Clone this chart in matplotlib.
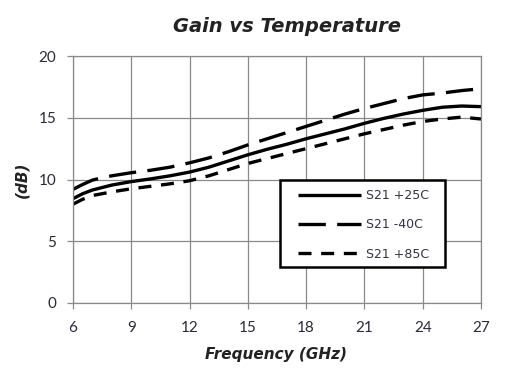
import matplotlib
matplotlib.use("Agg")
import matplotlib.pyplot as plt
from matplotlib.patches import Rectangle

freq = [6, 6.5, 7, 7.5, 8, 9, 10, 11, 12, 13, 14, 15, 16, 17, 18, 19, 20, 21, 22, 23, 24, 25, 26, 27]
s21_25 = [8.45, 8.85, 9.15, 9.35, 9.55, 9.83, 10.05, 10.3, 10.6, 11.0, 11.5, 12.0, 12.45, 12.85,
          13.3, 13.7, 14.1, 14.55, 14.95, 15.3, 15.6, 15.85, 15.95, 15.9]
s21_m40 = [9.2, 9.6, 9.95, 10.15, 10.3, 10.55, 10.75, 11.0, 11.35, 11.75, 12.25, 12.8, 13.3, 13.8,
           14.3, 14.8, 15.3, 15.75, 16.15, 16.55, 16.85, 17.0, 17.2, 17.35]
s21_85 = [8.0, 8.4, 8.7, 8.85, 9.0, 9.25, 9.45, 9.65, 9.9, 10.3, 10.8, 11.3, 11.7, 12.1,
          12.5, 12.9, 13.3, 13.7, 14.05, 14.4, 14.7, 14.9, 15.05, 14.9]

xticks = [6, 9, 12, 15, 18, 21, 24, 27]
yticks = [0, 5, 10, 15, 20]
labels = ["S21 +25C", "S21 -40C", "S21 +85C"]

plt.rcParams['font.family'] = ['Lato', 'DejaVu Sans']

fig = plt.figure(figsize=(5.2, 3.86), dpi=100)
ax = fig.add_axes([73/520, 1-303/386, (481-73)/520, (303-56)/386])

lw = 2.4
ax.plot(freq, s21_25, color='black', lw=lw, solid_capstyle='butt',
        solid_joinstyle='round', label=labels[0])
ax.plot(freq, s21_m40, color='black', lw=lw, dashes=(8.2, 3.4), label=labels[1])
ax.plot(freq, s21_85, color='black', lw=lw, dashes=(3.9, 2.9), label=labels[2])

ax.set_xlim(6, 27)
ax.set_ylim(0, 20)
ax.set_xticks(xticks)
ax.set_yticks(yticks)
ax.grid(True, color='#8a8a8a', lw=0.9)
ax.set_axisbelow(True)
for sp in ax.spines.values():
    sp.set_color('#8a8a8a')
    sp.set_linewidth(0.9)
ax.tick_params(axis='both', colors='#8a8a8a', length=4, width=0.9,
               labelcolor='#2a2a3a', labelsize=11)
ax.tick_params(axis='x', pad=9)
ax.tick_params(axis='y', pad=8)

fig.text(287/520, 1-26/386, "Gain vs Temperature", ha='center', va='center',
         fontsize=14, fontweight='bold', style='italic', color='#222222',
         family=['DejaVu Sans'])
fig.text(276/520, 1-355/386, "Frequency (GHz)", ha='center', va='center',
         fontsize=11, fontweight='bold', style='italic', color='#222222',
         family=['DejaVu Sans'])
fig.text(22/520, 1-180/386, "(dB)", ha='center', va='center', rotation=90,
         fontsize=11, fontweight='bold', style='italic', color='#222222',
         family=['DejaVu Sans'])

# legend frame
frame = Rectangle((280/520, 1-267/386), (445-280)/520, (267-180)/386,
                  transform=fig.transFigure, facecolor='white',
                  edgecolor='black', lw=1.8, zorder=4, clip_on=False)
ax.add_artist(frame)

leg = ax.legend(loc='upper left', bbox_to_anchor=(298/520, 1-189/386),
                bbox_transform=fig.transFigure, borderaxespad=0, borderpad=0,
                frameon=False, handlelength=5.0, handletextpad=0.45,
                labelspacing=1.3, prop={'family': 'DejaVu Sans', 'size': 9})
leg.set_zorder(10)
for t in leg.get_texts():
    t.set_color('#333344')

fig.savefig("out.png", dpi=100)
